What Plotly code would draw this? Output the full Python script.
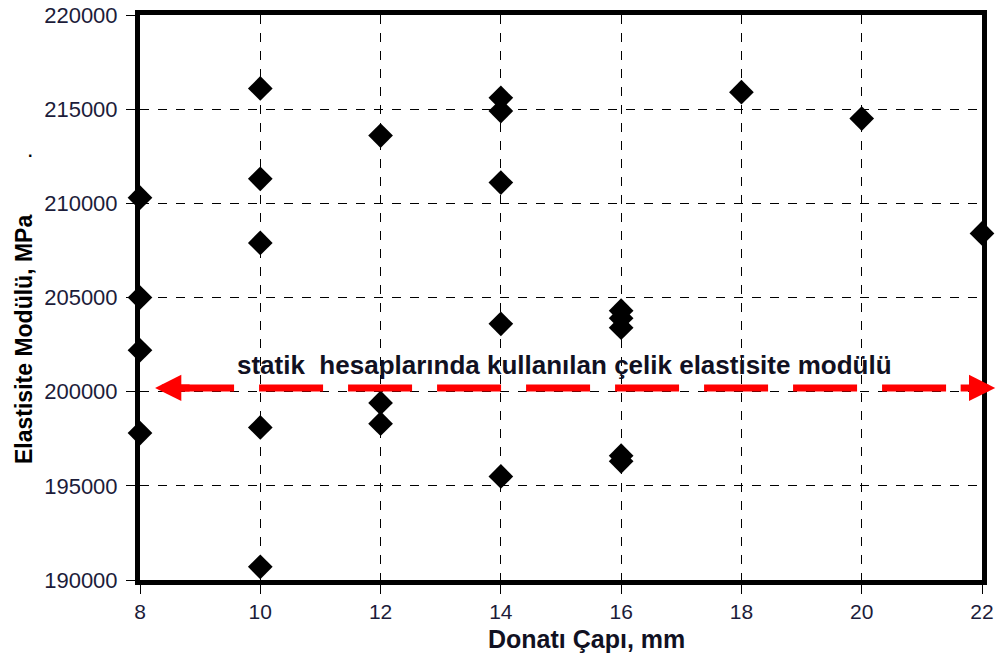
import plotly.graph_objects as go

# Data
diameters = [8, 8, 8, 8,
             10, 10, 10, 10, 10,
             12, 12, 12,
             14, 14, 14, 14, 14,
             16, 16, 16, 16, 16,
             18, 20, 22]
moduli = [210300, 205000, 202200, 197800,
          216100, 211300, 207900, 198100, 190700,
          213600, 199400, 198300,
          215600, 214900, 211100, 203600, 195500,
          204300, 203900, 203400, 196600, 196300,
          215900, 214500, 208400]
design_modulus = 200200
design_label = "statik  hesaplarında kullanılan çelik elastisite modülü"
x_ticks = [8, 10, 12, 14, 16, 18, 20, 22]
y_ticks = [190000, 195000, 200000, 205000, 210000, 215000, 220000]

FONT = "Liberation Sans, Arial"

fig = go.Figure()

fig.add_trace(go.Scatter(
    x=diameters, y=moduli, mode="markers",
    marker=dict(symbol="diamond", size=19, color="black"),
    cliponaxis=False, showlegend=False, hoverinfo="x+y"))

# red dashed reference line
x0_line, x1_line = 8.25, 22.22
fig.add_shape(type="line", xref="x", yref="y",
              x0=x0_line + 0.25, x1=x1_line - 0.25,
              y0=design_modulus, y1=design_modulus,
              line=dict(color="red", width=7, dash="64px,25px"))
for tip, tail in [(x0_line, x0_line + 0.6), (x1_line, x1_line - 0.6)]:
    fig.add_annotation(x=tip, y=design_modulus, ax=tail, ay=design_modulus,
                       xref="x", yref="y", axref="x", ayref="y",
                       showarrow=True, arrowhead=2, arrowsize=0.75,
                       arrowwidth=7, arrowcolor="red", text="")

fig.add_annotation(x=15.05, y=201400, xref="x", yref="y", text="<b>" + design_label + "</b>",
                   showarrow=False, xanchor="center", yanchor="middle",
                   font=dict(family=FONT, size=26, color="#111122"))

fig.add_annotation(x=24, y=340, xref="paper", yref="paper",
                   text="<b>Elastisite Modülü, MPa</b>", textangle=-90, showarrow=False,
                   xanchor="center", yanchor="middle",
                   font=dict(family=FONT, size=23, color="black"))
fig.add_annotation(x=30, y=152, xref="paper", yref="paper",
                   text="<b>.</b>", showarrow=False, xanchor="center", yanchor="middle",
                   font=dict(family=FONT, size=16, color="black"))
fig.add_annotation(x=586, y=639, xref="paper", yref="paper",
                   text="<b>Donatı Çapı, mm</b>", showarrow=False,
                   xanchor="center", yanchor="middle",
                   font=dict(family=FONT, size=25, color="#111122"))

axis_common = dict(showline=True, linecolor="black", linewidth=5, mirror=True,
                   showgrid=True, gridcolor="black", gridwidth=1, griddash="dash",
                   ticks="outside", ticklen=9, tickcolor="black", tickwidth=1,
                   zeroline=False, layer="above traces", automargin=False)

fig.update_xaxes(range=[8, 22], tickvals=x_ticks,
                 tickfont=dict(family=FONT, size=21, color="#1c1c3a"), **axis_common)
fig.update_yaxes(range=[190000, 220000], tickvals=y_ticks, tickformat="d",
                 ticklabelstandoff=4,
                 tickfont=dict(family=FONT, size=22, color="#1c1c3a"), **axis_common)

# convert pixel-based annotation positions to paper coords
L, R, T, B = 140, 18, 15, 82
W, H = 1000, 662
pw, ph = W - L - R, H - T - B
for ann in fig.layout.annotations:
    if ann.xref == "paper":
        ann.x = (ann.x - L) / pw
        ann.y = (H - B - ann.y) / ph

fig.update_layout(width=W, height=H,
                  margin=dict(l=L, r=R, t=T, b=B),
                  plot_bgcolor="white", paper_bgcolor="white",
                  showlegend=False)

fig.write_html("out.html")
